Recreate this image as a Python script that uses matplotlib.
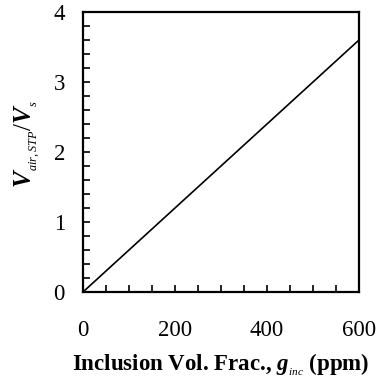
import matplotlib
matplotlib.use("Agg")
import matplotlib.pyplot as plt
import numpy as np
from matplotlib.ticker import MultipleLocator

plt.rcParams['font.family'] = ['Liberation Serif', 'DejaVu Serif']
plt.rcParams['mathtext.fontset'] = 'custom'
plt.rcParams['mathtext.rm'] = 'Liberation Serif'
plt.rcParams['mathtext.it'] = 'Liberation Serif:italic'
plt.rcParams['mathtext.bf'] = 'Liberation Serif:bold'
plt.rcParams['mathtext.bfit'] = 'Liberation Serif:italic:bold'

g_inc = [0, 600]
v_ratio = [0, 3.6]

fig = plt.figure(figsize=(3.79, 3.81), dpi=100)
ax = fig.add_axes([83/379, 1-292/381, (359-83)/379, (292-12)/381])
ax.plot(g_inc, v_ratio, color='black', lw=1.2)
ax.set_xlim(0, 600)
ax.set_ylim(0, 4)
ax.xaxis.set_major_locator(MultipleLocator(200))
ax.xaxis.set_minor_locator(MultipleLocator(50))
ax.yaxis.set_major_locator(MultipleLocator(1))
ax.yaxis.set_minor_locator(MultipleLocator(0.2))
ax.tick_params(which='both', direction='in', length=5, width=1.2, top=False, right=False)
ax.tick_params(axis='x', which='major', pad=20, labelsize=16.5)
ax.tick_params(axis='y', which='major', pad=13, labelsize=16.5)
for s in ax.spines.values():
    s.set_linewidth(1.6)
ax.set_xlabel(r'Inclusion Vol. Frac., $\mathbfit{g}_{{}_{\mathit{inc}}}$ (ppm)', fontsize=16.5, fontweight='bold', labelpad=8)
ax.set_ylabel(r'$\mathbfit{V}_{{}_{\mathit{air,STP}}}/\mathbfit{V}_{{}_{\mathit{s}}}$', fontsize=18, labelpad=8)
ax.yaxis.label.set_y(0.53)
fig.savefig('out.png', dpi=100)
